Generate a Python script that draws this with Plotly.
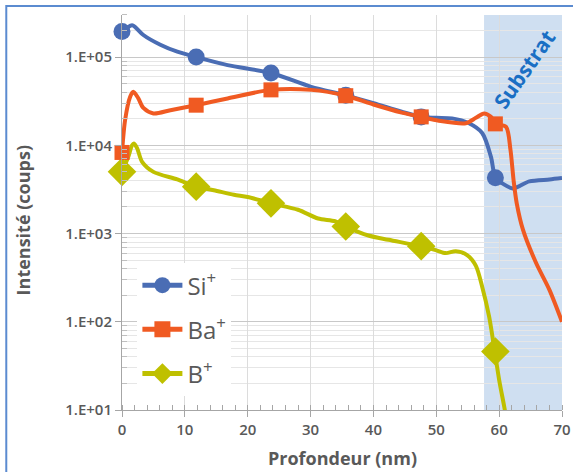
import plotly.graph_objects as go

# ---- data ----
si_depth = [0, 0.8, 1.6, 2.1, 3.4, 6.1, 8.8, 11.8, 16.8, 23.7, 30.1, 35.5, 40, 44.5, 47.6,
            50, 52.5, 55.2, 57.3, 58.7, 59.4, 60.5, 62.2, 64.8, 68, 70]
si_counts = [195000, 215000, 229000, 219000, 178000, 138000, 115000, 100000, 81000, 66000,
             46000, 37000, 30000, 24000, 21000, 20500, 20200, 17800, 13800, 7400, 4300,
             3700, 3250, 3900, 4100, 4250]

ba_depth = [0, 0.5, 1.3, 1.8, 2.6, 3.4, 5.0, 7.7, 11.8, 16.8, 23.7, 30.1, 35.6, 40, 44.5,
            47.6, 50.4, 54.7, 56.3, 57.6, 58.7, 59.5, 61.1, 61.8, 62.3, 62.8, 63.8, 65.9, 68, 70]
ba_counts = [8300, 19500, 35500, 40500, 34000, 26500, 23000, 25000, 28500, 34000, 42500,
             42500, 36500, 29000, 23500, 21000, 19000, 17800, 20500, 23000, 21000, 17500,
             16200, 8900, 4000, 2200, 1100, 460, 230, 100]

b_depth = [0, 1.0, 1.6, 1.9, 2.4, 3.2, 5.0, 8.8, 11.8, 14.6, 17.8, 20, 23.7, 28, 31.2, 33.9,
           35.6, 39.2, 42.4, 47.5, 49.9, 51.5, 53.1, 54.9, 56.3, 57.3, 58.4, 59.3, 60.0, 60.8, 61.3]
b_counts = [5000, 7400, 10000, 10500, 9300, 6500, 5000, 4100, 3400, 3100, 2750, 2600, 2200,
            1860, 1480, 1380, 1200, 950, 850, 720, 650, 600, 630, 570, 430, 250, 115, 46, 22, 11, 7]

marker_depth = [0, 11.8, 23.7, 35.6, 47.6, 59.4]
si_marker_counts = [195000, 100000, 66000, 37000, 21000, 4300]
ba_marker_counts = [8300, 28500, 42500, 36500, 21000, 17500]
b_marker_counts = [5000, 3400, 2200, 1200, 720, 46]

series_names = ["Si<sup>+</sup>", "Ba<sup>+</sup>", "B<sup>+</sup>"]
y_tick_values = [10, 100, 1000, 10000, 100000]
y_tick_labels = ["1.E+01", "1.E+02", "1.E+03", "1.E+04", "1.E+05"]
substrate_start = 57.6
substrate_end = 70
substrate_label = "Substrat"

# ---- styles ----
C_SI = "#4a6db4"
C_BA = "#f05a22"
C_B = "#bfc000"
GREY = "#595959"
FONT = "Open Sans"

fig = go.Figure()

# substrate shading
fig.add_vrect(x0=substrate_start, x1=substrate_end, fillcolor="#cfdff1", line_width=0, layer="below")

line_kw = dict(mode="lines", line_shape="spline", showlegend=False, hoverinfo="skip")
mark_kw = dict(mode="markers", showlegend=False, cliponaxis=False)

# curves (B first, then Si, then Ba on top)
fig.add_trace(go.Scatter(x=b_depth, y=b_counts, line=dict(color=C_B, width=4, smoothing=0.8), **line_kw))
fig.add_trace(go.Scatter(x=marker_depth, y=b_marker_counts,
                         marker=dict(symbol="diamond", size=22, color=C_B), **mark_kw))
fig.add_trace(go.Scatter(x=si_depth, y=si_counts, line=dict(color=C_SI, width=4, smoothing=0.8), **line_kw))
fig.add_trace(go.Scatter(x=marker_depth, y=si_marker_counts,
                         marker=dict(symbol="circle", size=17, color=C_SI), **mark_kw))
fig.add_trace(go.Scatter(x=ba_depth, y=ba_counts, line=dict(color=C_BA, width=4, smoothing=0.8), **line_kw))
fig.add_trace(go.Scatter(x=marker_depth, y=ba_marker_counts,
                         marker=dict(symbol="square", size=15, color=C_BA), **mark_kw))

# legend entries
for name, col, sym, grp in [(series_names[0], C_SI, "circle", "a"),
                            (series_names[1], C_BA, "square", "b"),
                            (series_names[2], C_B, "diamond", "c")]:
    fig.add_trace(go.Scatter(x=[None], y=[None], mode="lines+markers", name=name, legendgroup=grp,
                             line=dict(color=col, width=5),
                             marker=dict(symbol=sym, size=16, color=col)))

minor_vals = [k * 10 ** n for n in range(1, 6) for k in range(2, 10) if k * 10 ** n <= 300000]

fig.update_layout(
    width=573, height=472,
    margin=dict(l=122, r=10.5, t=15, b=62, autoexpand=False),
    paper_bgcolor="white", plot_bgcolor="white",
    font=dict(family=FONT, color=GREY),
    legend=dict(x=0.035, y=0.372, xanchor="left", yanchor="top", bgcolor="white",
                font=dict(size=24, color=GREY, family=FONT), tracegroupgap=10,
                itemwidth=40),
    xaxis=dict(range=[0, 70], dtick=10, tick0=0, showgrid=True, gridcolor="#dcdcdc", gridwidth=1,
               showline=True, linecolor="#a6a6a6", linewidth=1, ticks="outside", ticklen=6,
               tickcolor="#a6a6a6", zeroline=False, automargin=False, ticklabeloverflow="allow",
               tickfont=dict(size=15, color=GREY, family=FONT, weight=600),
               minor=dict(dtick=2, ticks="inside", ticklen=5, tickcolor="#a6a6a6", showgrid=False)),
    yaxis=dict(type="log", range=[1, 5.477], tickvals=y_tick_values, ticktext=y_tick_labels,
               showgrid=True, gridcolor="#c8c8c8", gridwidth=1, automargin=False,
               showline=True, linecolor="#a6a6a6", linewidth=1, ticks="outside", ticklen=6,
               tickcolor="#a6a6a6", zeroline=False,
               tickfont=dict(size=15, color=GREY, family=FONT, weight=600),
               minor=dict(tickvals=minor_vals, ticks="inside", ticklen=5, tickcolor="#bfbfbf",
                          showgrid=True, gridcolor="#e6e6e6", gridwidth=1)),
)

# axis titles
fig.add_annotation(text="Intensité (coups)", xref="paper", yref="paper", x=-0.225, y=0.48,
                   xanchor="center", yanchor="middle",
                   textangle=-90, showarrow=False, font=dict(size=18, color=GREY, family=FONT, weight="bold"))
fig.add_annotation(text="Profondeur (nm)", xref="paper", yref="paper", x=0.5, y=-0.122,
                   xanchor="center", yanchor="middle",
                   showarrow=False, font=dict(size=18, color=GREY, family=FONT, weight="bold"))

# substrate label
fig.add_annotation(text=substrate_label, x=64.0, y=4.87, xref="x", yref="y", textangle=-55,
                   showarrow=False, font=dict(size=21, color="#1a6fc4", family=FONT, weight="bold"))

# outer border
fig.add_shape(type="rect", xref="paper", yref="paper", x0=-0.263, x1=1.06, y0=-0.17, y1=1.0228,
              line=dict(color="#5b8bd0", width=2), fillcolor="rgba(0,0,0,0)")

fig.write_html("out.html", config={"displayModeBar": False},
               post_script="document.body.style.margin='0';document.body.style.overflow='hidden';")
